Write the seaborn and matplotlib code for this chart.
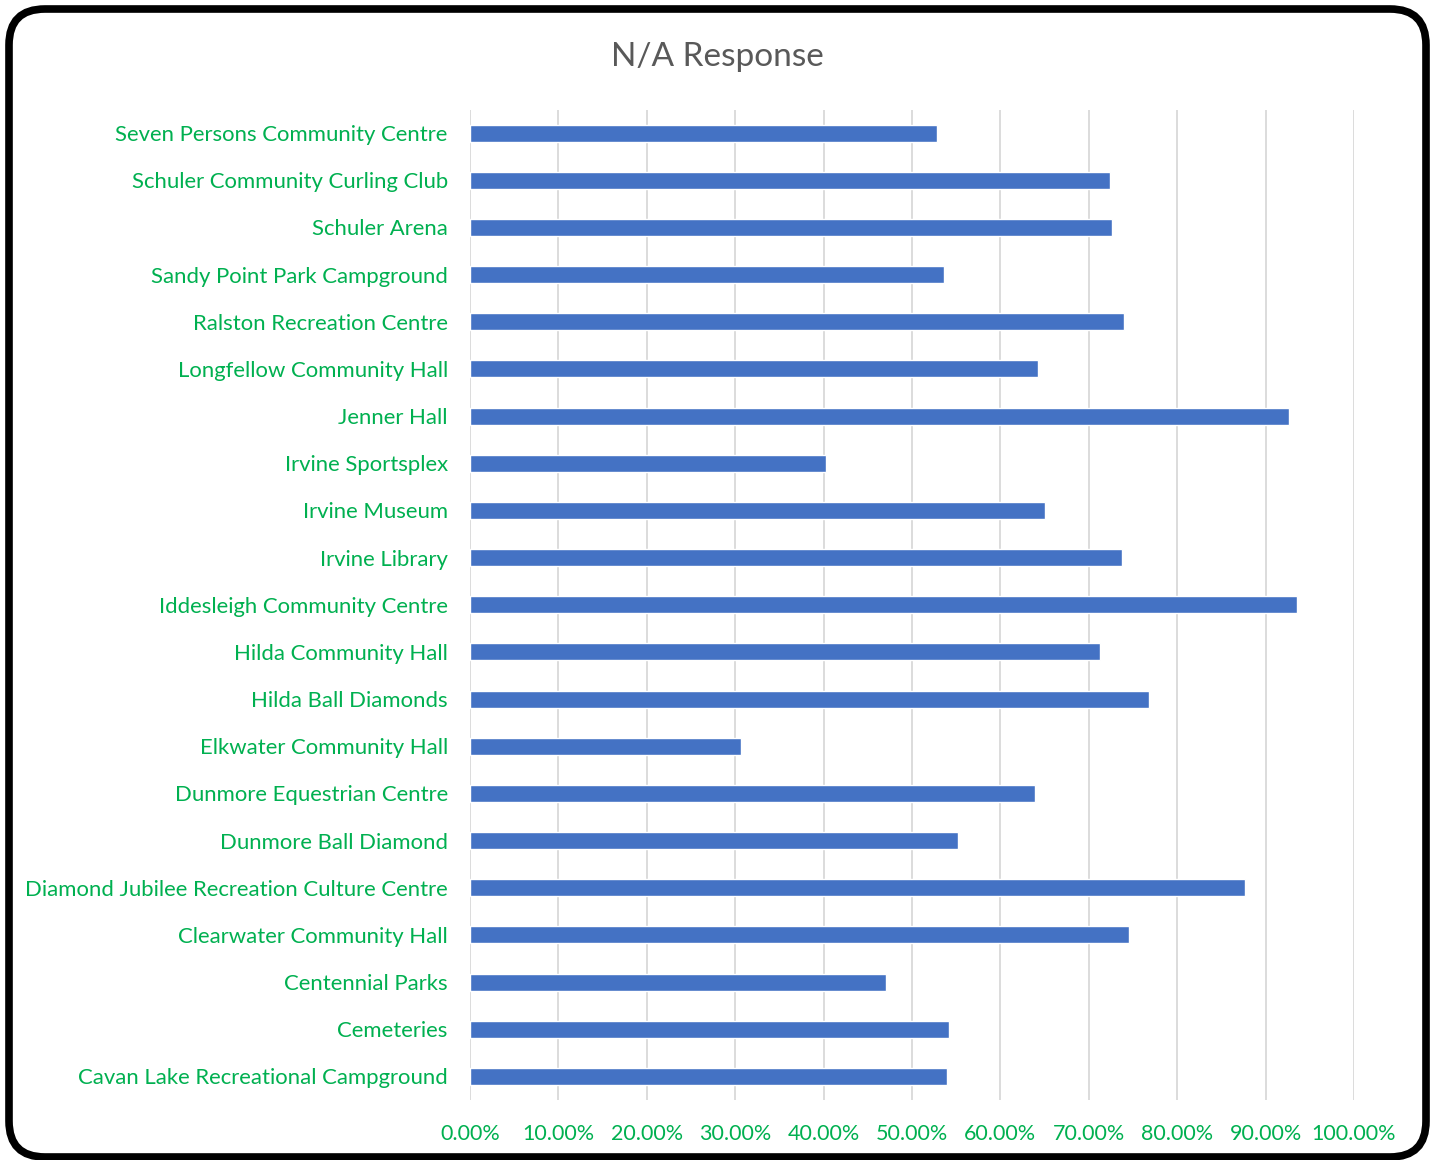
import matplotlib
matplotlib.use("Agg")
import matplotlib.pyplot as plt
import seaborn as sns
import pandas as pd
from matplotlib.patches import FancyBboxPatch
from matplotlib.ticker import FuncFormatter

facilities = [
    "Seven Persons Community Centre",
    "Schuler Community Curling Club",
    "Schuler Arena",
    "Sandy Point Park Campground",
    "Ralston Recreation Centre",
    "Longfellow Community Hall",
    "Jenner Hall",
    "Irvine Sportsplex",
    "Irvine Museum",
    "Irvine Library",
    "Iddesleigh Community Centre",
    "Hilda Community Hall",
    "Hilda Ball Diamonds",
    "Elkwater Community Hall",
    "Dunmore Equestrian Centre",
    "Dunmore Ball Diamond",
    "Diamond Jubilee Recreation Culture Centre",
    "Clearwater Community Hall",
    "Centennial Parks",
    "Cemeteries",
    "Cavan Lake Recreational Campground",
]
na_share = [
    0.528, 0.724, 0.726, 0.536, 0.740, 0.643, 0.926, 0.403, 0.650, 0.738,
    0.935, 0.713, 0.768, 0.307, 0.639, 0.552, 0.877, 0.745, 0.471, 0.542, 0.540,
]
x_ticks = [i / 10 for i in range(11)]

df = pd.DataFrame({"facility": facilities, "share": na_share})

sns.set_theme(style="white")
plt.rcParams["font.family"] = ["Lato", "DejaVu Sans"]

GREEN = "#00B050"
BLUE = "#4472C4"

fig = plt.figure(figsize=(14.37, 11.6), dpi=100)
ax = fig.add_axes([470 / 1437, 1 - 1100 / 1160, (1354 - 470) / 1437, (1100 - 109.5) / 1160])

sns.barplot(data=df, x="share", y="facility", color=BLUE, width=0.36,
            saturation=1, ax=ax, orient="h")

ax.set_xlim(0, 1.0)
ax.set_xticks(x_ticks)
ax.xaxis.set_major_formatter(FuncFormatter(lambda v, p: f"{v * 100:.2f}%"))
ax.grid(axis="x", color="#D9D9D9", linewidth=1.3)
ax.set_axisbelow(True)
for s in ax.spines.values():
    s.set_visible(False)
ax.set_xlabel("")
ax.set_ylabel("")
ax.tick_params(axis="x", colors=GREEN, labelsize=15.5, length=0, pad=17)
ax.tick_params(axis="y", colors=GREEN, labelsize=15.9, length=0, pad=16)
for lbl in ax.get_xticklabels() + ax.get_yticklabels():
    lbl.set_color(GREEN)

fig.text(717 / 1437, 1 - 57 / 1160, "N/A Response", ha="center", va="center",
         fontsize=24, color="#595959")

# rounded chart frame
frame = FancyBboxPatch((9 / 1437, 3 / 1160), 1417 / 1437, 1148 / 1160,
                       boxstyle="round,pad=0,rounding_size=0.025",
                       transform=fig.transFigure, facecolor="none",
                       edgecolor="black", linewidth=5.5, zorder=10,
                       mutation_aspect=1437 / 1160)
fig.patches.append(frame)

fig.savefig("out.png", dpi=100, facecolor="white")
